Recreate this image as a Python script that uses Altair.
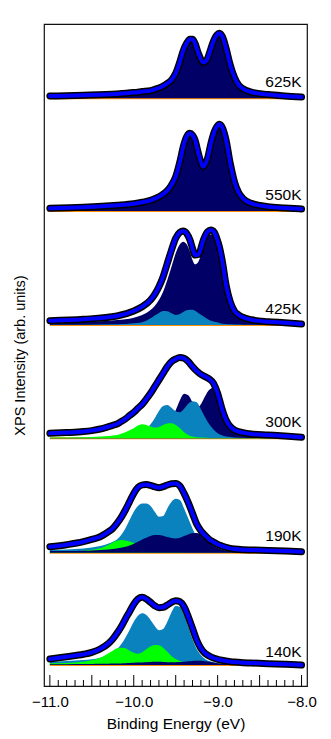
import altair as alt
import pandas as pd

# ---------------- data (intensities in arb. units above each spectrum's background) -------------
SPECTRA = ["625K", "550K", "425K", "300K", "190K", "140K"]
OFFSETS = [587.7, 475.0, 361.0, 247.7, 133.3, 21.0]

E_NARROW = [-11.0, -10.6, -10.2, -10.0, -9.9, -9.8, -9.75, -9.7, -9.65, -9.6, -9.55, -9.5,
            -9.45, -9.41, -9.37, -9.33, -9.3, -9.27, -9.23, -9.17, -9.12, -9.08, -9.04,
            -9.01, -8.98, -8.94, -8.9, -8.85, -8.8, -8.75, -8.7, -8.6, -8.4, -8.2, -8.0]

E_BROAD = [-11.0, -10.8, -10.6, -10.5, -10.4, -10.3, -10.25, -10.2, -10.15, -10.1, -10.05,
           -10.0, -9.95, -9.9, -9.85, -9.8, -9.75, -9.7, -9.65, -9.6, -9.55, -9.5, -9.45,
           -9.4, -9.35, -9.3, -9.25, -9.2, -9.15, -9.1, -9.05, -9.0, -8.95, -8.9, -8.85,
           -8.8, -8.7, -8.6, -8.4, -8.2, -8.0]

FIT_625 = [2.3, 3, 4.3, 5.7, 6.7, 7.7, 9, 10.3, 12.3, 15, 18.3, 25, 36.7, 47.7, 55, 59, 59,
           55, 45, 35.7, 40, 50, 59, 63.3, 65, 61, 50, 33.3, 21, 13.3, 9.7, 6.3, 3.7, 2.3, 1.3]

FIT_550 = [2.7, 3.7, 5.7, 7.3, 8.7, 10.7, 12.3, 14.3, 17, 20.3, 26, 34.3, 49.3, 64.3, 74.3,
           77.7, 76, 71, 57.7, 44.3, 52.7, 67.7, 79.3, 84.3, 86.7, 82.7, 71, 47.7, 29.3, 18.3,
           12.7, 7.7, 4.3, 3, 2]

FIT_425 = [4.3, 5.7, 9, 14, 18.3, 25, 30.7, 38.3, 48.3, 61.7, 75, 86.7, 92.7, 94, 91.7, 85,
           76.7, 70, 70.5, 85, 93.3, 95, 92.7, 86.7, 78.3, 61.7, 40, 23.3, 14, 10, 7.7, 5.3,
           3.3, 2.3, 1]
NAVY_425 = [2.7, 3.3, 5, 7.3, 10, 15, 19, 25, 33.3, 45, 58.3, 71.7, 80.7, 83.3, 80.7, 73.3,
            65, 60.7, 63.3, 78.3, 88.3, 90.7, 89.3, 85, 76.7, 60, 38.3, 22.3, 13.3, 9.3, 7,
            4.7, 3, 2, 1]
MID_425 = [0.3, 0.3, 0.7, 1.7, 2.7, 6.7, 9.5, 12, 14, 13.7, 11.7, 10, 11, 13, 14.7, 15.3,
           15.3, 14.3, 12, 8.7, 6, 4.3, 3.3, 2.7, 2, 1.3, 1, 0.7, 0.5, 0.4, 0.3, 0.3, 0.2,
           0.2, 0.2]

FIT_300 = [5, 5.7, 6.7, 7.7, 9.3, 11.7, 13, 14.3, 16.7, 19.3, 22.7, 26, 30, 34, 39.3, 45,
           51.7, 58.3, 65, 71.7, 76.7, 79.3, 80.7, 80, 76.7, 71.7, 67.3, 64, 61.7, 59.3, 55,
           45, 30, 18.3, 11.7, 8.3, 5.7, 4.3, 3.3, 2.3, 1]
NAVY_300 = [0.3, 0.3, 0.3, 0.3, 0.5, 0.5, 0.5, 0.7, 0.7, 0.8, 1, 1.2, 1.5, 2, 2.5, 3.3, 5, 7,
            10, 14, 20, 28, 38, 44.5, 43, 36, 30, 34, 42, 48.5, 50.5, 43, 29, 17, 10, 6, 2.7,
            1.5, 0.8, 0.5, 0.3]
MID_300 = [0.3, 0.3, 0.5, 0.5, 0.7, 0.8, 1, 1.2, 1.5, 2, 2.5, 3.3, 4.5, 6, 9, 14, 20, 27.3,
           32.3, 33.3, 30.5, 27, 26, 29.5, 34.5, 37, 36, 29, 21, 14, 8.7, 5, 3, 1.8, 1.2, 0.8,
           0.5, 0.3, 0.3, 0.2, 0.2]
GREEN_300 = [0.7, 0.8, 1, 1.3, 1.7, 2.3, 2.8, 3.3, 4.5, 6, 8, 10, 12.7, 14, 13.3, 11.7, 10.7,
             11.3, 13.3, 14.7, 15, 13.3, 10, 6, 3.3, 1.7, 1, 0.7, 0.5, 0.4, 0.3, 0.3, 0.3,
             0.3, 0.3, 0.3, 0.3, 0.3, 0.3, 0.3, 0.3]

FIT_190 = [6, 8, 11, 13.3, 16, 21, 24.3, 29.3, 35.3, 42.7, 51, 59.3, 65.3, 67.7, 68.3, 67.3,
           66, 65, 66, 67.7, 69, 69.3, 66.7, 59.3, 50, 39.3, 28.7, 22, 17.3, 13.3, 10.7, 8.3,
           6.7, 5.3, 4.3, 3.7, 3, 2.7, 2.3, 1.7, 1]
MID_190 = [2.7, 3.3, 4.3, 5.3, 6.7, 9.3, 11, 13.3, 17.7, 24.3, 32.7, 41, 46.7, 49.3, 49.3,
           46.7, 41, 36, 36.7, 44.3, 51, 54, 52.7, 44.3, 34.3, 24.3, 16, 11, 7.7, 5.3, 3.7,
           2.7, 2, 1.3, 1, 0.8, 0.5, 0.4, 0.3, 0.2, 0.2]
GREEN_190 = [1, 1.3, 2, 3, 4.5, 8, 10.3, 12, 12.7, 12.3, 11.3, 10, 8.7, 8, 7.3, 6.3, 5, 3.7,
             2.7, 2, 1.3, 1, 0.7, 0.5, 0.3, 0.3, 0.3, 0.3, 0.3, 0.3, 0.3, 0.3, 0.3, 0.3, 0.3,
             0.3, 0.3, 0.3, 0.3, 0.3, 0.3]
NAVY_190 = [1.7, 1.8, 2, 2.3, 2.7, 3.3, 3.7, 4.3, 5, 6, 7.3, 9, 11, 13.3, 15, 16.7, 17.7,
            17.7, 17, 15.7, 14.7, 14.3, 15, 16.7, 18.3, 19.7, 19.7, 18, 14.3, 10.3, 7, 4.7,
            3.3, 2.3, 1.7, 1.3, 0.8, 0.5, 0.3, 0.2, 0.2]

FIT_140 = [6, 8.3, 10.7, 12.7, 16, 21.7, 26, 31.7, 38.3, 46, 53.3, 60.7, 66, 67.7, 66, 62.7,
           59.3, 57.3, 57.7, 60, 62.7, 64.3, 63.3, 58.3, 48.3, 36.7, 25, 16.7, 11.7, 9, 7,
           5.7, 4.7, 4, 3.3, 3, 2.3, 2, 1.3, 0.7, 0]
MID_140 = [3.3, 4, 5, 5.7, 7.3, 10, 12.3, 15.7, 20.7, 27.3, 35, 43.3, 49.3, 51.7, 50, 45, 39,
           34.7, 36, 43.3, 52.7, 59, 58.3, 50, 38.3, 26, 16, 10, 6, 4, 2.7, 1.7, 1.2, 0.9,
           0.7, 0.5, 0.4, 0.3, 0.2, 0.2, 0.2]
GREEN_140 = [1.7, 2, 3.3, 4.7, 7.3, 11.7, 14.3, 16.7, 17.3, 16.7, 14.3, 12.3, 11.3, 12.7,
             15.7, 18.7, 20, 19.7, 17.3, 13.3, 9, 6, 4, 2.7, 2, 1.3, 1, 0.7, 0.5, 0.3, 0.3,
             0.3, 0.3, 0.3, 0.3, 0.3, 0.3, 0.3, 0.3, 0.3, 0.3]
NAVY_140 = [0.7, 0.8, 1, 1, 1.2, 1.3, 1.4, 1.5, 1.6, 1.8, 2, 2.2, 2.4, 2.6, 2.8, 3, 3.2, 3.2,
            3, 2.8, 2.7, 2.8, 3, 3.3, 3.7, 4, 4.2, 4.2, 3.8, 3.2, 2.5, 1.8, 1.3, 1, 0.7, 0.6,
            0.4, 0.3, 0.2, 0.2, 0.1]

BACKGROUND_E = [-11.0, -8.0]
BACKGROUND = [0.0, 0.0]

ENERGY = {"625K": E_NARROW, "550K": E_NARROW, "425K": E_NARROW,
          "300K": E_BROAD, "190K": E_BROAD, "140K": E_BROAD}
FITS = {"625K": FIT_625, "550K": FIT_550, "425K": FIT_425,
        "300K": FIT_300, "190K": FIT_190, "140K": FIT_140}
# components, listed from back to front
COMPONENTS = {
    "625K": [("navy", FIT_625)],
    "550K": [("navy", FIT_550)],
    "425K": [("navy", NAVY_425), ("mid", MID_425)],
    "300K": [("navy", NAVY_300), ("mid", MID_300), ("green", GREEN_300)],
    "190K": [("mid", MID_190), ("green", GREEN_190), ("navy", NAVY_190)],
    "140K": [("mid", MID_140), ("green", GREEN_140), ("navy", NAVY_140)],
}

MAJOR_TICKS = [-11.0, -10.5, -10.0, -9.5, -9.0, -8.5, -8.0]
MINOR_TICKS = [-10.9, -10.8, -10.7, -10.6, -10.4, -10.3, -10.2, -10.1, -9.9, -9.8, -9.7,
               -9.6, -9.4, -9.3, -9.2, -9.1, -8.9, -8.8, -8.7, -8.6, -8.4, -8.3, -8.2, -8.1]
TICK_LABELS = [-11.0, -10.0, -9.0, -8.0]

# ---------------- tables ----------------
area_rows, fit_rows, bg_rows, label_rows = [], [], [], []
for s, off in zip(SPECTRA, OFFSETS):
    for rank, (comp, vals) in enumerate(COMPONENTS[s]):
        for e, v in zip(ENERGY[s], vals):
            area_rows.append(dict(E=e, spectrum=s, comp=comp, rank=rank, top=off + v, base=off))
    for e, v in zip(ENERGY[s], FITS[s]):
        fit_rows.append(dict(E=e, spectrum=s, top=off + v))
    for e, v in zip(BACKGROUND_E, BACKGROUND):
        bg_rows.append(dict(E=e, spectrum=s, top=off + v))
    label_rows.append(dict(E=-8.0, spectrum=s, top=off + (13.3 if s == "140K" else 16.3)))

area_df = pd.DataFrame(area_rows)
fit_df = pd.DataFrame(fit_rows)
bg_df = pd.DataFrame(bg_rows)
label_df = pd.DataFrame(label_rows)
major_df = pd.DataFrame({"E": MAJOR_TICKS})
minor_df = pd.DataFrame({"E": MINOR_TICKS})

FONT = "Liberation Sans"
xs = alt.Scale(domain=[-11.07, -7.935], nice=False, zero=False)
ys = alt.Scale(domain=[0, 662], nice=False, zero=False)
x_axis = alt.Axis(values=TICK_LABELS, format=".1f", ticks=False, domain=False, grid=False,
                  labelPadding=8, labelFontSize=15, labelColor="black",
                  title="Binding Energy (eV)", titleFontSize=15.5, titleFontWeight="normal",
                  titleY=37, titleBaseline="middle", titleColor="black")
y_axis = alt.Axis(labels=False, ticks=False, domain=False, grid=False,
                  title="XPS Intensity (arb. units)", titleFontSize=14.5,
                  titleFontWeight="normal", titleX=-24, titleY=331, titleBaseline="middle",
                  titleAlign="center", titleColor="black")


def X():
    return alt.X("E:Q", scale=xs, axis=x_axis)


def Y():
    return alt.Y("top:Q", scale=ys, axis=y_axis)


color_scale = alt.Scale(domain=["navy", "mid", "green"],
                        range=["#000066", "#0A82BD", "#00FF00"])

major = alt.Chart(major_df).mark_rule(color="black", strokeWidth=1).encode(
    x=X(), y=alt.value(662), y2=alt.value(651))
minor = alt.Chart(minor_df).mark_rule(color="black", strokeWidth=1).encode(
    x=X(), y=alt.value(662), y2=alt.value(656))

bg = alt.Chart(bg_df).mark_line(color="#FF8C00", strokeWidth=2).encode(
    x=X(), y=Y(), detail="spectrum:N")

areas = []
for r in range(3):
    areas.append(
        alt.Chart(area_df[area_df["rank"] == r]).mark_area(interpolate="monotone").encode(
            x=X(), y=Y(), y2="base:Q",
            color=alt.Color("comp:N", scale=color_scale, legend=None),
            detail="spectrum:N"))

data_line = alt.Chart(fit_df).mark_line(interpolate="monotone", color="black", strokeWidth=7,
                                        strokeCap="round", strokeJoin="round").encode(
    x=X(), y=Y(), detail="spectrum:N")
fit_line = alt.Chart(fit_df).mark_line(interpolate="monotone", color="#0000FF", strokeWidth=4,
                                       strokeCap="round", strokeJoin="round").encode(
    x=X(), y=Y(), detail="spectrum:N")

labels = alt.Chart(label_df).mark_text(align="right", baseline="middle", font=FONT,
                                       fontSize=15.5, color="black").encode(
    x=X(), y=Y(), text="spectrum:N")

chart = alt.layer(bg, *areas, data_line, fit_line, labels, major, minor).properties(
    width=263, height=662, autosize="none",
    padding={"left": 36, "top": 16, "right": 14, "bottom": 46},
).configure_view(stroke="#111111", strokeWidth=1.2).configure_axis(
    labelFont=FONT, titleFont=FONT)

chart.save("out.html", embed_options={"renderer": "svg", "actions": False})
